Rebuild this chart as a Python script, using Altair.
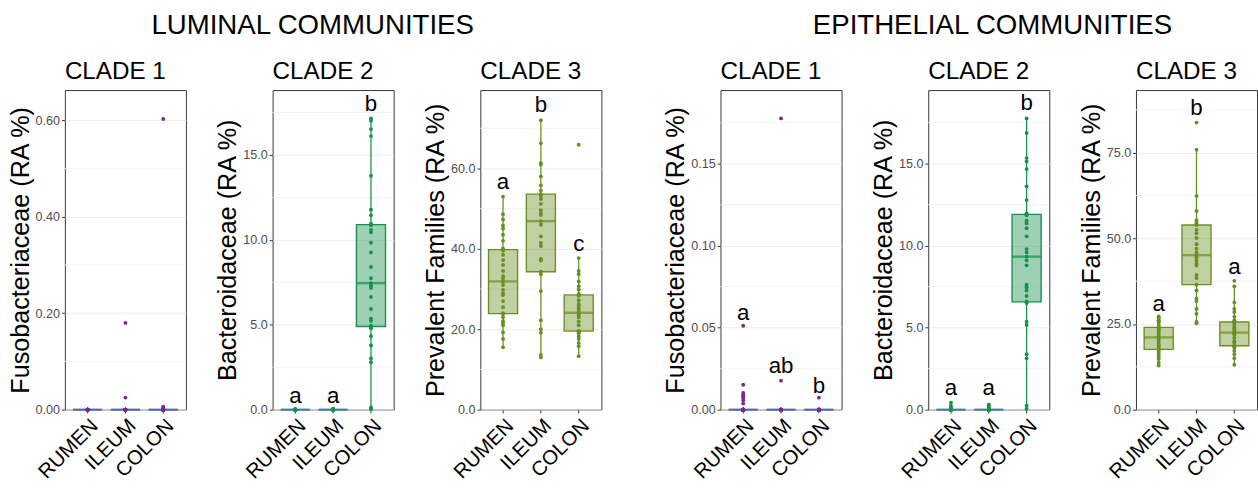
import altair as alt
import pandas as pd

FONT = "Liberation Sans"
SITES = ["RUMEN", "ILEUM", "COLON"]
GROUP_TITLES = ["LUMINAL COMMUNITIES", "EPITHELIAL COMMUNITIES"]
PANEL_TITLES = ["CLADE 1", "CLADE 2", "CLADE 3"]
Y_TITLES = ["Fusobacteriaceae (RA %)", "Bacteroidaceae (RA %)", "Prevalent Families (RA %)"]
CLADE_COLORS = ["#7A2A8C", "#17904B", "#6B8E23"]

# ---------------- LUMINAL ----------------
LUM_C1_RUMEN = [0.0, 0.0, 0.0, 0.0, 0.0, 0.0, 0.0, 0.0, 0.0, 0.0, 0.0, 0.0, 0.0, 0.0, 0.0]
LUM_C1_ILEUM = [0.180, 0.025, 0.0, 0.0, 0.0, 0.0, 0.0, 0.0, 0.0, 0.0, 0.0, 0.0, 0.0, 0.0, 0.0]
LUM_C1_COLON = [0.603, 0.006, 0.003, 0.0, 0.0, 0.0, 0.0, 0.0, 0.0, 0.0, 0.0, 0.0, 0.0, 0.0, 0.0]

LUM_C2_RUMEN = [0.03, 0.02, 0.01, 0.0, 0.0, 0.0, 0.0, 0.0, 0.0, 0.0, 0.0, 0.0, 0.0, 0.0, 0.0]
LUM_C2_ILEUM = [0.05, 0.03, 0.02, 0.0, 0.0, 0.0, 0.0, 0.0, 0.0, 0.0, 0.0, 0.0, 0.0, 0.0, 0.0]
LUM_C2_COLON = [0.03, 0.13, 2.79, 3.02, 3.78, 4.32, 4.79, 4.85, 4.94, 5.23, 5.36, 5.93, 6.64,
                7.17, 7.30, 7.45, 7.74, 8.40, 9.26, 9.83, 10.44, 10.59, 10.85, 10.95, 11.45,
                11.77, 13.77, 16.11, 16.52, 17.02, 17.15]

LUM_C3_RUMEN = [15.5, 17.6, 19.2, 21.0, 21.6, 22.0, 23.0, 23.8, 24.0, 25.5, 27.0, 28.5, 29.0,
                29.8, 31.0, 31.9, 32.6, 33.2, 34.5, 36.0, 37.2, 38.5, 39.5, 40.1, 42.0, 43.5,
                45.0, 45.8, 47.3, 48.6, 53.0]
LUM_C3_ILEUM = [13.0, 13.6, 19.1, 20.0, 22.2, 29.5, 33.7, 34.3, 37.1, 37.5, 40.7, 41.5, 43.1,
                46.0, 46.9, 48.4, 48.8, 49.6, 51.2, 52.4, 53.2, 53.6, 54.5, 55.8, 58.0, 61.0,
                61.4, 66.3, 72.0]
LUM_C3_COLON = [13.3, 15.8, 16.6, 17.6, 18.2, 19.0, 19.2, 19.5, 19.6, 21.0, 21.9, 22.9, 23.4,
                23.8, 23.9, 24.1, 24.3, 24.8, 25.3, 25.9, 26.3, 27.2, 28.3, 28.8, 29.9, 30.7,
                31.9, 33.7, 34.5, 37.7, 65.9]

# ---------------- EPITHELIAL ----------------
EPI_C1_RUMEN = [0.0512, 0.0152, 0.0102, 0.0089, 0.0080, 0.0073, 0.0057, 0.0037,
                0.0, 0.0, 0.0, 0.0, 0.0, 0.0, 0.0, 0.0, 0.0, 0.0, 0.0, 0.0, 0.0, 0.0, 0.0,
                0.0, 0.0, 0.0, 0.0, 0.0, 0.0, 0.0, 0.0, 0.0, 0.0]
EPI_C1_ILEUM = [0.1776, 0.0177, 0.0, 0.0, 0.0, 0.0, 0.0, 0.0, 0.0, 0.0, 0.0, 0.0, 0.0, 0.0, 0.0]
EPI_C1_COLON = [0.0073, 0.0, 0.0, 0.0, 0.0, 0.0, 0.0, 0.0, 0.0, 0.0, 0.0, 0.0, 0.0, 0.0, 0.0]

EPI_C2_RUMEN = [0.43, 0.24, 0.12, 0.0, 0.0, 0.0, 0.0, 0.0, 0.0, 0.0, 0.0, 0.0, 0.0, 0.0, 0.0]
EPI_C2_ILEUM = [0.30, 0.26, 0.15, 0.0, 0.0, 0.0, 0.0, 0.0, 0.0, 0.0, 0.0, 0.0, 0.0, 0.0, 0.0]
EPI_C2_COLON = [0.05, 0.24, 3.13, 3.38, 5.16, 5.36, 6.50, 6.54, 6.60, 6.93, 7.27, 7.46, 7.62,
                8.80, 9.10, 9.33, 9.59, 9.79, 10.57, 11.06, 11.36, 11.52, 11.85, 11.97, 12.78,
                13.62, 14.67, 15.14, 15.34, 16.87, 17.76]

EPI_C3_RUMEN = [12.9, 13.7, 14.8, 15.5, 16.2, 16.8, 17.4, 17.5, 17.7, 18.1, 18.6, 19.0, 19.7,
                20.4, 20.8, 21.1, 21.5, 21.9, 22.5, 23.0, 23.3, 23.6, 23.9, 24.1, 24.7, 25.4,
                25.8, 26.1, 26.5, 26.9, 27.2]
EPI_C3_ILEUM = [25.2, 25.6, 28.0, 29.4, 31.7, 32.5, 34.8, 36.5, 38.4, 39.3, 42.1, 42.6, 43.5,
                44.5, 45.1, 45.9, 47.0, 48.3, 50.1, 51.5, 52.5, 53.9, 54.2, 54.6, 55.3, 58.0,
                62.4, 75.9, 83.8]
EPI_C3_COLON = [13.1, 15.0, 16.2, 17.2, 18.1, 18.4, 18.5, 18.6, 18.7, 19.6, 20.0, 20.9, 21.9,
                22.2, 22.4, 22.5, 22.9, 23.3, 23.7, 24.0, 24.7, 25.4, 25.5, 25.7, 26.1, 27.1,
                28.5, 29.4, 31.3, 36.0, 37.6]

# significance letters (text and baseline height in data units)
LUM_C2_LETTERS = ["a", "a", "b"]
LUM_C2_LETTER_Y = [0.42, 0.42, 17.6]
LUM_C3_LETTERS = ["a", "b", "c"]
LUM_C3_LETTER_Y = [55.0, 74.0, 39.5]
EPI_C1_LETTERS = ["a", "ab", "b"]
EPI_C1_LETTER_Y = [0.0549, 0.0226, 0.0102]
EPI_C2_LETTERS = ["a", "a", "b"]
EPI_C2_LETTER_Y = [0.886, 0.886, 18.25]
EPI_C3_LETTERS = ["a", "b", "a"]
EPI_C3_LETTER_Y = [28.8, 85.9, 39.6]

# axis ticks
LUM_C1_TICKS, LUM_C1_MINOR, LUM_C1_MAX = [0.0, 0.2, 0.4, 0.6], [0.1, 0.3, 0.5], 0.663
LUM_C2_TICKS, LUM_C2_MINOR, LUM_C2_MAX = [0, 5, 10, 15], [2.5, 7.5, 12.5, 17.5], 18.82
LUM_C3_TICKS, LUM_C3_MINOR, LUM_C3_MAX = [0, 20, 40, 60], [10, 30, 50, 70], 79.5
EPI_C1_TICKS, EPI_C1_MINOR, EPI_C1_MAX = [0.0, 0.05, 0.10, 0.15], [0.025, 0.075, 0.125, 0.175], 0.1949
EPI_C2_TICKS, EPI_C2_MINOR, EPI_C2_MAX = [0, 5, 10, 15], [2.5, 7.5, 12.5, 17.5], 19.49
EPI_C3_TICKS, EPI_C3_MINOR, EPI_C3_MAX = [0, 25, 50, 75], [12.5, 37.5, 62.5, 87.5], 93.3

PW, PH = 125, 330


def panel(groups, letters, letter_y, color, title, ytitle, ticks, minor, ymax, fmt):
    rows = []
    for site, vals in zip(SITES, groups):
        for v in vals:
            rows.append({"site": site, "value": v})
    df = pd.DataFrame(rows)

    xenc = alt.X(
        "site:N", sort=SITES, title=None,
        scale=alt.Scale(domain=SITES, paddingInner=0.25, paddingOuter=0.225),
        axis=alt.Axis(labelAngle=-45, labelAlign="right", labelBaseline="top",
                      labelFontSize=21, labelColor="black", labelFont=FONT,
                      labelPadding=2, tickSize=3.5, tickColor="#333333",
                      domain=False, grid=False, labelOverlap=False),
    )
    yenc = alt.Y(
        "value:Q",
        scale=alt.Scale(domain=[0, ymax], nice=False, zero=True),
        axis=alt.Axis(values=ticks, format=fmt, title=ytitle, titleFontSize=26,
                      titleFont=FONT, titleFontWeight="normal", titleColor="black",
                      titlePadding=2, labelFontSize=13, labelColor="#4D4D4D",
                      labelFont=FONT, labelPadding=2, tickSize=3.5,
                      tickColor="#333333", domain=False, grid=True,
                      gridColor="#EBEBEB", gridWidth=1, labelFlush=False,
                      labelOverlap=False),
    )

    grid = alt.Chart(pd.DataFrame({"value": minor})).mark_rule(
        color="#F2F2F2", strokeWidth=1).encode(y=yenc)

    box = alt.Chart(df).mark_boxplot(
        extent=1.5, size=30, outliers=False, color=color,
        box={"fill": color, "fillOpacity": 0.42, "stroke": color, "strokeWidth": 1.4},
        median={"color": color, "thickness": 2.5},
        rule={"color": color, "strokeWidth": 1.3},
    ).encode(x=xenc, y=yenc)

    pts = alt.Chart(df).mark_circle(size=16, opacity=1, color=color).encode(x=xenc, y=yenc)

    layers = [grid, box, pts]
    if letters:
        ldf = pd.DataFrame({"site": SITES, "value": letter_y, "letter": letters})
        txt = alt.Chart(ldf).mark_text(fontSize=23, font=FONT, baseline="alphabetic",
                                       align="center", color="black").encode(
            x=xenc, y=yenc, text="letter:N")
        layers.append(txt)

    return alt.layer(*layers).properties(
        width=PW, height=PH,
        title=alt.TitleParams(text=title, anchor="start", frame="group", fontSize=25,
                              font=FONT, fontWeight="normal", color="black", offset=6),
    )


lum = alt.hconcat(
    panel([LUM_C1_RUMEN, LUM_C1_ILEUM, LUM_C1_COLON], None, None, CLADE_COLORS[0],
          PANEL_TITLES[0], Y_TITLES[0], LUM_C1_TICKS, LUM_C1_MINOR, LUM_C1_MAX, ".2f"),
    panel([LUM_C2_RUMEN, LUM_C2_ILEUM, LUM_C2_COLON], LUM_C2_LETTERS, LUM_C2_LETTER_Y,
          CLADE_COLORS[1], PANEL_TITLES[1], Y_TITLES[1], LUM_C2_TICKS, LUM_C2_MINOR,
          LUM_C2_MAX, ".1f"),
    panel([LUM_C3_RUMEN, LUM_C3_ILEUM, LUM_C3_COLON], LUM_C3_LETTERS, LUM_C3_LETTER_Y,
          CLADE_COLORS[2], PANEL_TITLES[2], Y_TITLES[2], LUM_C3_TICKS, LUM_C3_MINOR,
          LUM_C3_MAX, ".1f"),
    spacing=28.5,
    title=alt.TitleParams(text=GROUP_TITLES[0], fontSize=28.5, font=FONT, fontWeight="normal",
                          color="black", anchor="middle", offset=21, dx=8),
)

epi = alt.hconcat(
    panel([EPI_C1_RUMEN, EPI_C1_ILEUM, EPI_C1_COLON], EPI_C1_LETTERS, EPI_C1_LETTER_Y,
          CLADE_COLORS[0], PANEL_TITLES[0], Y_TITLES[0], EPI_C1_TICKS, EPI_C1_MINOR,
          EPI_C1_MAX, ".2f"),
    panel([EPI_C2_RUMEN, EPI_C2_ILEUM, EPI_C2_COLON], EPI_C2_LETTERS, EPI_C2_LETTER_Y,
          CLADE_COLORS[1], PANEL_TITLES[1], Y_TITLES[1], EPI_C2_TICKS, EPI_C2_MINOR,
          EPI_C2_MAX, ".1f"),
    panel([EPI_C3_RUMEN, EPI_C3_ILEUM, EPI_C3_COLON], EPI_C3_LETTERS, EPI_C3_LETTER_Y,
          CLADE_COLORS[2], PANEL_TITLES[2], Y_TITLES[2], EPI_C3_TICKS, EPI_C3_MINOR,
          EPI_C3_MAX, ".1f"),
    spacing=28.5,
    title=alt.TitleParams(text=GROUP_TITLES[1], fontSize=28.5, font=FONT, fontWeight="normal",
                          color="black", anchor="middle", offset=21, dx=33),
)

chart = alt.hconcat(lum, epi, spacing=62).properties(
    padding={"left": 7, "top": 4, "right": 0, "bottom": 0}
).configure_view(stroke="#333333", strokeWidth=1)

chart.save("out.html", embed_options={"renderer": "svg", "actions": False})
